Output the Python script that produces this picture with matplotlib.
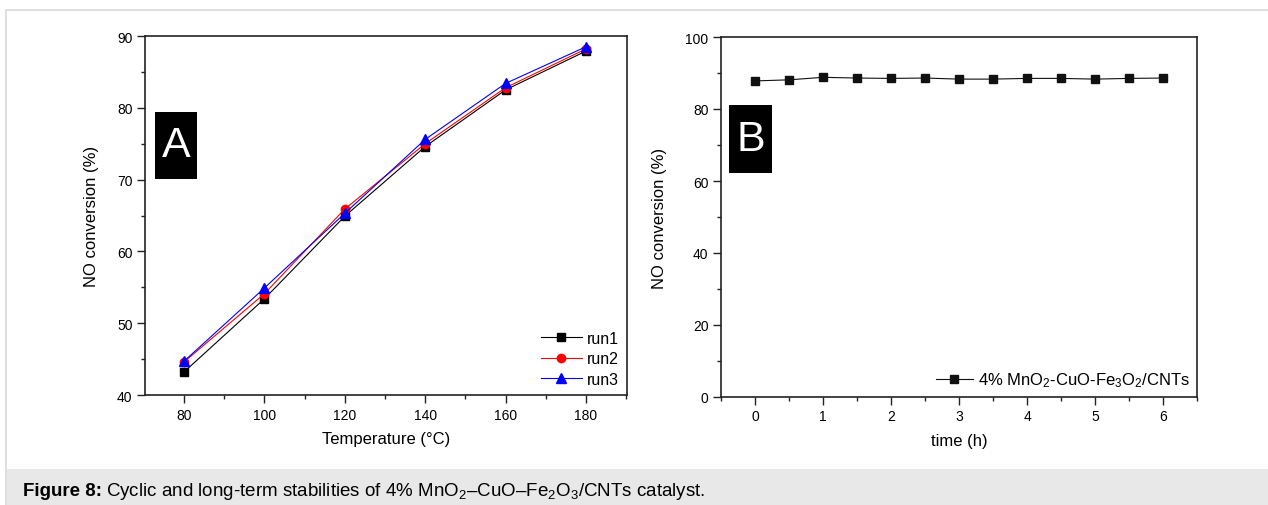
import matplotlib
matplotlib.use("Agg")
import matplotlib.pyplot as plt
from matplotlib.patches import Rectangle
from matplotlib.ticker import MultipleLocator

plt.rcParams['font.family'] = ['Liberation Sans', 'DejaVu Sans']
plt.rcParams['mathtext.fontset'] = 'custom'
plt.rcParams['mathtext.rm'] = 'Liberation Sans'
plt.rcParams['mathtext.it'] = 'Liberation Sans:italic'
plt.rcParams['mathtext.bf'] = 'Liberation Sans:bold'

# panel A data
temps = [80, 100, 120, 140, 160, 180]
run1 = [43.2, 53.4, 64.9, 74.6, 82.5, 87.9]
run2 = [44.6, 54.1, 65.9, 75.0, 82.8, 88.2]
run3 = [44.7, 54.9, 65.3, 75.6, 83.4, 88.5]

# panel B data
hours = [0, 0.5, 1, 1.5, 2, 2.5, 3, 3.5, 4, 4.5, 5, 5.5, 6]
conv = [87.8, 88.1, 88.8, 88.6, 88.5, 88.6, 88.3, 88.3, 88.5, 88.5, 88.3, 88.5, 88.6]

W, H = 1268, 506
fig = plt.figure(figsize=(W / 100, H / 100), dpi=100)

# outer frame and caption strip
fig.patches.append(Rectangle((6 / W, -0.01), 1.0, 1.01 - 11 / H, transform=fig.transFigure,
                             facecolor='white', edgecolor='#d9d9d9', lw=1.2, zorder=-2))
fig.patches.append(Rectangle((6.6 / W, -0.01), 1.0, 0.01 + 1 - 470 / H, transform=fig.transFigure,
                             facecolor='#e8e8e8', edgecolor='none', zorder=-1))

fig.text(23 / W, 1 - 496 / H, 'Figure 8:', fontsize=13.5, fontweight='bold', va='baseline')
fig.text(106 / W, 1 - 496 / H,
         'Cyclic and long-term stabilities of 4% MnO$_2$\u2013CuO\u2013Fe$_2$O$_3$/CNTs catalyst.',
         fontsize=13.5, va='baseline')


def style_axes(ax):
    for s in ax.spines.values():
        s.set_linewidth(1.2)
        s.set_color('#222222')
    ax.tick_params(which='both', direction='out', top=False, right=False,
                   labelsize=10, width=1.0, color='#222222')
    ax.tick_params(which='major', length=5.5)
    ax.tick_params(which='minor', length=3)


def label_box(ax, x0, y0, x1, y1, letter):
    ax.add_patch(Rectangle((x0, y0), x1 - x0, y1 - y0, transform=ax.transAxes,
                           facecolor='black', edgecolor='none', zorder=5))
    ax.text((x0 + x1) / 2, (y0 + y1) / 2, letter, transform=ax.transAxes,
            color='white', fontsize=31, ha='center', va='center', zorder=6)


# ---- panel A
axA = fig.add_axes([145 / W, 1 - 396 / H, 482 / W, 359 / H])
axA.plot(temps, run1, 'k-s', lw=0.8, ms=5.5, label='run1')
axA.plot(temps, run2, '-o', color='red', lw=0.8, ms=6, label='run2')
axA.plot(temps, run3, '-^', color='blue', lw=0.8, ms=7, label='run3')
axA.set_xlim(70.3, 190.2)
axA.set_ylim(40, 90)
axA.xaxis.set_major_locator(MultipleLocator(20))
axA.xaxis.set_minor_locator(MultipleLocator(10))
axA.yaxis.set_major_locator(MultipleLocator(10))
axA.yaxis.set_minor_locator(MultipleLocator(5))
style_axes(axA)
axA.set_xlabel('Temperature (\u00b0C)', fontsize=12, labelpad=7)
axA.set_ylabel('NO conversion (%)', fontsize=12, labelpad=13)
axA.legend(loc='lower right', frameon=False, fontsize=11.5, handlelength=2.6,
           handletextpad=0.3, labelspacing=0.35, borderaxespad=0.1)
label_box(axA, 0.021, 0.602, 0.108, 0.788, 'A')

# ---- panel B
axB = fig.add_axes([721 / W, 1 - 398 / H, 476 / W, 360 / H])
axB.plot(hours, conv, '-s', lw=0.8, ms=5.5, color='#111111',
         label='4% MnO$_2$-CuO-Fe$_3$O$_2$/CNTs')
axB.set_xlim(-0.5, 6.5)
axB.set_ylim(0, 100)
axB.xaxis.set_major_locator(MultipleLocator(1))
axB.xaxis.set_minor_locator(MultipleLocator(0.5))
axB.yaxis.set_major_locator(MultipleLocator(20))
axB.yaxis.set_minor_locator(MultipleLocator(10))
style_axes(axB)
axB.set_xlabel('time (h)', fontsize=12, labelpad=7)
axB.set_ylabel('NO conversion (%)', fontsize=12, labelpad=13)
axB.legend(loc='lower right', frameon=False, fontsize=12, handlelength=2.2,
           handletextpad=0.3, borderaxespad=0.05)
label_box(axB, 0.017, 0.622, 0.107, 0.811, 'B')

fig.savefig('out.png', dpi=100)
